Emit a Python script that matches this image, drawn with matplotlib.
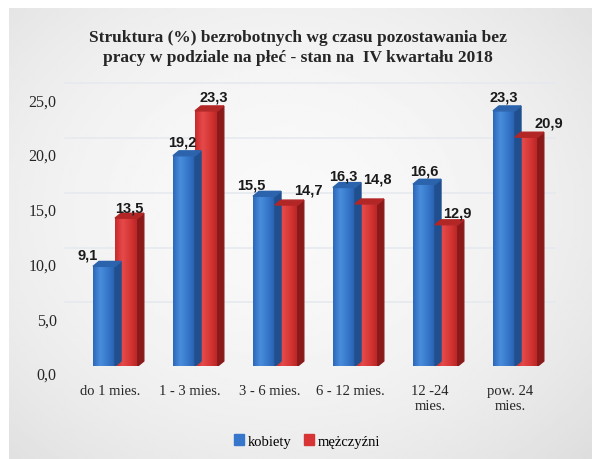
import matplotlib
matplotlib.use('Agg')
import matplotlib.pyplot as plt
import matplotlib.transforms as mtransforms
from matplotlib.patches import Polygon, Patch
from matplotlib.colors import LinearSegmentedColormap
import numpy as np

# data
categories = ["do 1 mies.", "1 - 3 mies.", "3 - 6 mies.", "6 - 12 mies.", "12 -24\nmies.", "pow. 24\nmies."]
kobiety = [9.1, 19.2, 15.5, 16.3, 16.6, 23.3]
mezczyzni = [13.5, 23.3, 14.7, 14.8, 12.9, 20.9]
series_names = ["kobiety", "mężczyźni"]
yticks = [0, 5, 10, 15, 20, 25]

# label offsets in pixels (dx, dy) relative to the top of each bar
blue_off = [(-16, 12), (-2, 14), (-13, 12), (-1, 12), (0, 14), (0, 14)]
red_off = [(3, 11), (7, 14), (22, 16), (11, 25), (11, 12), (22, 15)]

blue = dict(front="#3677cc", side="#1f4f8f", top="#2c63ad",
            grad=["#2d68bb", "#4a8ddb", "#3679cc", "#2a5fae"])
red = dict(front="#d73535", side="#8a1a1a", top="#b22626",
           grad=["#c92a2a", "#e54a4a", "#d63636", "#b82424"])

W, H = 592, 460
fig = plt.figure(figsize=(W / 100, H / 100), dpi=100)
fig.patch.set_facecolor("white")

# soft gray background
bg = fig.add_axes([9 / W, 0, 1 - 9 / W, 1 - 9 / H], zorder=-10)
yy, xx = np.mgrid[0:1:200j, 0:1:260j]
r2 = ((xx - 0.47) / 0.75) ** 2 + ((yy - 0.45) / 0.8) ** 2
bg.imshow(0.975 - 0.11 * r2, cmap="gray", vmin=0, vmax=1, aspect="auto",
          extent=[0, 1, 0, 1], interpolation="bilinear")
bg.axis("off")

ax = fig.add_axes([65 / W, 93 / H, 500 / W, 284.7 / H])
ax.set_facecolor("none")
ax.set_xlim(-0.625, 5.625)
ax.set_ylim(0, 26)
for s in ax.spines.values():
    s.set_visible(False)

# back wall gridlines
up = mtransforms.ScaledTranslation(0, 9 / 100, fig.dpi_scale_trans)
for v in yticks[1:]:
    ax.plot([-0.62, 5.5], [v, v], color="#e4e9ee", lw=1.1, zorder=0,
            transform=ax.transData + up, clip_on=False)

x = np.arange(len(categories))
bw_b, bw_r = 0.275, 0.285
dx, dy = 0.075, 0.45
ramp = np.linspace(0, 1, 64).reshape(1, -1)


def bar3d(x0, w, h, c):
    bars = ax.bar(x0, h, width=w, align="edge", color=c["front"], zorder=3)
    cmap = LinearSegmentedColormap.from_list("g", c["grad"])
    im = ax.imshow(ramp, cmap=cmap, extent=[x0, x0 + w, 0, h], aspect="auto",
                   zorder=3.1, interpolation="bilinear")
    im.set_clip_path(bars[0])
    side = [(x0 + w, 0), (x0 + w + dx, dy), (x0 + w + dx, h + dy), (x0 + w, h)]
    top = [(x0, h), (x0 + dx, h + dy), (x0 + w + dx, h + dy), (x0 + w, h)]
    ax.add_patch(Polygon(side, closed=True, color=c["side"], zorder=3.2))
    ax.add_patch(Polygon(top, closed=True, color=c["top"], zorder=3.2))


for i in x:
    bar3d(i - bw_b, bw_b, kobiety[i], blue)
for i in x:
    bar3d(i, bw_r, mezczyzni[i], red)
ax.set_xlim(-0.625, 5.625)
ax.set_ylim(0, 26)
ax.set_aspect("auto")

lab_font = dict(family="Liberation Sans", fontweight="bold", fontsize=10.5, color="#1a1a1a")
for i in x:
    ax.annotate(f"{kobiety[i]:.1f}".replace(".", ","), (i - bw_b / 2, kobiety[i]),
                xytext=blue_off[i], textcoords="offset pixels",
                ha="center", va="center", zorder=5, **lab_font)
    ax.annotate(f"{mezczyzni[i]:.1f}".replace(".", ","), (i + bw_r / 2, mezczyzni[i]),
                xytext=red_off[i], textcoords="offset pixels",
                ha="center", va="center", zorder=5, **lab_font)

serif = "Liberation Serif"
ax.set_yticks(yticks)
ax.set_yticklabels([f"{v:.1f}".replace(".", ",") for v in yticks],
                   family=serif, fontsize=11.5, color="#262626")
ax.set_xticks(x - 0.06)
ax.set_xticklabels(categories, family=serif, fontsize=10.5, color="#262626",
                   linespacing=1.15)
ax.tick_params(axis="y", length=0, pad=6)
ax.tick_params(axis="x", length=0, pad=13)
down = mtransforms.ScaledTranslation(0, -7 / 100, fig.dpi_scale_trans)
for t in ax.get_yticklabels():
    t.set_transform(t.get_transform() + down)

fig.text(298 / W, 1 - 48 / H,
         "Struktura (%) bezrobotnych wg czasu pozostawania bez\n"
         "pracy w podziale na płeć - stan na  IV kwartału 2018",
         ha="center", va="center", family=serif, fontweight="bold",
         fontsize=12.5, color="#262626", linespacing=1.3)

handles = [Patch(color=blue["front"]), Patch(color=red["front"])]
fig.legend(handles, series_names, loc="center", bbox_to_anchor=(307 / W, 1 - 442 / H),
           ncol=2, frameon=False, handlelength=0.7, handleheight=0.7,
           handletextpad=0.3, columnspacing=0.8,
           prop=dict(family=serif, size=10.5))

fig.savefig("out.png", dpi=100)
